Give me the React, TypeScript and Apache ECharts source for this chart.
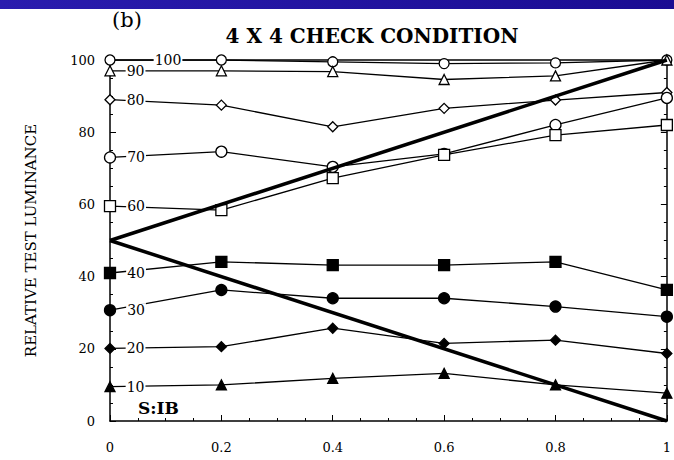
import React, { useEffect, useRef } from "react";
import * as echarts from "echarts";

const xValues = [0, 0.2, 0.4, 0.6, 0.8, 1];
const s100 = [100, 100, 99.5, 99, 99.2, 100];
const s90 = [97, 97, 96.8, 94.6, 95.6, 100];
const s80 = [89, 87.5, 81.5, 86.6, 88.9, 91];
const s70 = [73, 74.6, 70.4, 74, 82, 89.5];
const s60 = [59.5, 58.4, 67.3, 73.7, 79.2, 82];
const s40 = [41, 44.1, 43.2, 43.2, 44.1, 36.3];
const s30 = [30.7, 36.3, 34, 34, 31.7, 28.9];
const s20 = [20.1, 20.6, 25.7, 21.5, 22.4, 18.7];
const s10 = [9.5, 10, 11.8, 13.2, 10, 7.7];
const seriesLabels = ["100", "90", "80", "70", "60", "40", "30", "20", "10"];
const diagUp = [[0, 50], [1, 100]];
const diagDown = [[0, 50], [1, 0]];

const FONT = "DejaVu Serif";

type Spec = { vals: number[]; symbol: string; size: number; open: boolean; dist: number };

const specs: Spec[] = [
  { vals: s100, symbol: "circle", size: 10, open: true, dist: 38 },
  { vals: s90, symbol: "triangle", size: 10, open: true, dist: 10 },
  { vals: s80, symbol: "diamond", size: 10, open: true, dist: 10 },
  { vals: s70, symbol: "circle", size: 11, open: true, dist: 10 },
  { vals: s60, symbol: "rect", size: 11, open: true, dist: 10 },
  { vals: s40, symbol: "rect", size: 11, open: false, dist: 10 },
  { vals: s30, symbol: "circle", size: 11, open: false, dist: 10 },
  { vals: s20, symbol: "diamond", size: 10, open: false, dist: 10 },
  { vals: s10, symbol: "triangle", size: 10, open: false, dist: 10 },
];

export default function App() {
  const ref = useRef<HTMLDivElement>(null);
  useEffect(() => {
    if (!ref.current) return;
    const chart = echarts.init(ref.current, null, { renderer: "svg" });
    const lineSeries = specs.map((sp, k) => ({
      type: "line",
      symbol: sp.symbol,
      symbolSize: sp.size,
      z: 3,
      lineStyle: { color: "#000", width: 1.3 },
      itemStyle: {
        color: sp.open ? "#fff" : "#000",
        borderColor: "#000",
        borderWidth: 1.3,
      },
      data: sp.vals.map((v, i) =>
        i === 0
          ? {
              value: [xValues[i], v],
              label: {
                show: true,
                position: "right",
                distance: sp.dist,
                formatter: seriesLabels[k],
                color: "#000",
                fontFamily: FONT,
                fontSize: 14,
                backgroundColor: "#fff",
                padding: [0, 1],
              },
            }
          : [xValues[i], v]
      ),
    }));
    const diagSeries = [diagUp, diagDown].map((d) => ({
      type: "line",
      symbol: "none",
      z: 4,
      lineStyle: { color: "#000", width: 3.5 },
      data: d,
    }));
    chart.setOption({
      animation: false,
      backgroundColor: "#fff",
      grid: { left: 110, right: 4, top: 60, bottom: 39 },
      xAxis: [
        {
          type: "value",
          min: 0,
          max: 1,
          interval: 0.2,
          axisLine: { onZero: false, lineStyle: { color: "#000", width: 1.5 } },
          axisTick: { inside: true, length: 6, lineStyle: { color: "#000" } },
          minorTick: { show: true, splitNumber: 4, length: 3, lineStyle: { color: "#000" } },
          splitLine: { show: false },
          axisLabel: { margin: 20, color: "#000", fontFamily: FONT, fontSize: 13 },
        },
        {
          type: "value",
          position: "top",
          min: 0,
          max: 1,
          axisLine: { onZero: false, lineStyle: { color: "#000", width: 1.5 } },
          axisTick: { show: false },
          axisLabel: { show: false },
          splitLine: { show: false },
        },
      ],
      yAxis: [
        {
          type: "value",
          min: 0,
          max: 100,
          interval: 20,
          name: "RELATIVE TEST LUMINANCE",
          nameLocation: "middle",
          nameGap: 72,
          nameTextStyle: { color: "#000", fontFamily: FONT, fontSize: 15 },
          axisLine: { onZero: false, lineStyle: { color: "#000", width: 1.5 } },
          axisTick: { inside: true, length: 6, lineStyle: { color: "#000" } },
          minorTick: { show: true, splitNumber: 4, length: 3, lineStyle: { color: "#000" } },
          splitLine: { show: false },
          axisLabel: { margin: 15, color: "#000", fontFamily: FONT, fontSize: 13 },
        },
        {
          type: "value",
          position: "right",
          min: 0,
          max: 100,
          interval: 20,
          axisLine: { show: true, onZero: false, lineStyle: { color: "#000", width: 1.5 } },
          axisTick: { show: true, inside: true, length: 6, lineStyle: { color: "#000" } },
          minorTick: { show: true, splitNumber: 4, length: 3, lineStyle: { color: "#000" } },
          axisLabel: { show: false },
          splitLine: { show: false },
        },
      ],
      series: [...lineSeries, ...diagSeries],
      graphic: [
        {
          type: "rect",
          shape: { x: 0, y: 0, width: 674, height: 9 },
          style: {
            fill: new echarts.graphic.LinearGradient(0, 0, 1, 0, [
              { offset: 0, color: "#2a1cae" },
              { offset: 1, color: "#1a0c92" },
            ]),
          },
        },
        {
          type: "text",
          x: 112,
          y: 9,
          style: { text: "(b)", font: `21px "${FONT}"`, fill: "#000" },
        },
        {
          type: "text",
          x: 372,
          y: 36,
          style: {
            text: "4 X 4 CHECK CONDITION",
            font: `bold 20px "${FONT}"`,
            fill: "#000",
            align: "center",
            verticalAlign: "middle",
          },
        },
        {
          type: "text",
          x: 138,
          y: 408,
          style: {
            text: "S:IB",
            font: `bold 17px "${FONT}"`,
            fill: "#000",
            verticalAlign: "middle",
          },
        },
      ],
    });
    return () => chart.dispose();
  }, []);
  return (
    <div
      ref={ref}
      style={{ position: "fixed", left: 0, top: 0, width: 674, height: 460 }}
    />
  );
}
